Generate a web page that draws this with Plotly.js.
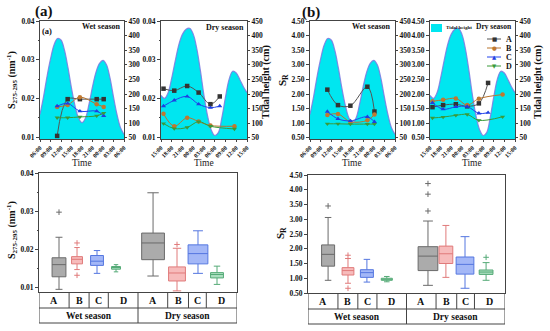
<!DOCTYPE html>
<html><head><meta charset="utf-8">
<script src="https://cdn.plot.ly/plotly-3.0.1.min.js"></script>
<style>html,body{margin:0;padding:0;background:#fff}#chart{width:550px;height:331px}</style>
</head><body><div id="chart"></div>
<script>
// ---------- DATA ----------
const wetTicks = ['06:00','09:00','12:00','15:00','18:00','21:00','00:00','03:00','06:00'];
const dryTicks = ['15:00','18:00','21:00','00:00','03:00','06:00','09:00','12:00','15:00'];
const seriesNames = ['A','B','C','D'];

// tidal height (cm), hours after first tick
const tideHours = [0,1,2,3,4,5,6,7,8,9,10,11,12,13,14,15,16,17,18,19,20,21,22,23,24];
const tideWet = [130,190,260,320,368,390,385,350,290,220,160,118,102,118,165,225,275,305,315,300,255,190,130,85,62];
const tideDry = [195,185,205,255,315,370,405,422,425,405,355,280,195,125,78,58,68,120,190,250,278,272,250,225,205];

// sampling hours after first tick
const sampWet = [4.9, 7.9, 11.4, 16.2, 18.2];
const sampDry = [0.7, 3.7, 7.3, 10.5, 13.8, 16.4, 20.5];

// S275-295 (nm^-1)
const sWetA = [0.0103, 0.0198, 0.0198, 0.0198, 0.0198];
const sWetB = [0.0178, 0.0183, 0.0203, 0.0185, 0.0178];
const sWetC = [0.0180, 0.0187, 0.0167, 0.0167, 0.0155];
const sWetD = [0.0150, 0.0150, 0.0152, 0.0155, 0.0162];
const sDryA = [0.0225, 0.0220, 0.0232, 0.0215, 0.0185, 0.0205, null];
const sDryB = [0.0160, 0.0128, 0.0150, 0.0140, 0.0130, null, 0.0128];
const sDryC = [0.0180, 0.0195, 0.0205, 0.0185, 0.0176, 0.0180, null];
const sDryD = [0.0135, 0.0122, 0.0125, 0.0140, 0.0128, null, 0.0121];

// SR
const rWetA = [2.15, 1.62, 1.60, 2.25, 1.40];
const rWetB = [1.28, 1.32, 1.05, 1.10, 1.30];
const rWetC = [1.40, 1.15, 1.08, 1.22, 1.05];
const rWetD = [0.98, 0.98, 0.97, 0.97, 0.97];
const rDryA = [1.55, 1.62, 1.65, 1.58, 1.68, 2.38, null];
const rDryB = [1.75, 1.80, 1.85, 1.62, 1.84, null, 1.98];
const rDryC = [1.70, 1.48, 1.56, 1.57, 1.34, 1.36, null];
const rDryD = [1.18, 1.21, 1.27, 1.30, 1.10, null, 1.22];

// box plots: order Wet A,B,C,D then Dry A,B,C,D
const boxCats = ['A','B','C','D','A','B','C','D'];
const seasons = ['Wet season','Dry season'];
const sLow  = [0.0094, 0.0146, 0.0136, 0.0140, 0.0129, 0.0090, 0.0136, 0.0107];
const sQ1   = [0.0127, 0.0161, 0.0157, 0.0147, 0.0172, 0.0116, 0.0161, 0.0124];
const sMed  = [0.0159, 0.0173, 0.0168, 0.0152, 0.0216, 0.0137, 0.0188, 0.0133];
const sQ3   = [0.0177, 0.0180, 0.0183, 0.0154, 0.0242, 0.0153, 0.0211, 0.0138];
const sHigh = [0.0231, 0.0204, 0.0196, 0.0159, 0.0348, 0.0202, 0.0248, 0.0155];
const sOut  = [[0.0297],[0.0216,0.0131],[],[],[],[0.0212],[],[]];
const rLow  = [0.93, 0.83, 0.87, 0.88, 0.76, 1.03, 0.66, 0.93];
const rQ1   = [1.41, 1.11, 1.03, 0.93, 1.26, 1.50, 1.14, 1.13];
const rMed  = [1.81, 1.26, 1.19, 0.96, 1.75, 1.83, 1.47, 1.21];
const rQ3   = [2.13, 1.36, 1.29, 1.00, 2.07, 2.09, 1.72, 1.28];
const rHigh = [3.06, 1.67, 1.64, 1.06, 2.94, 2.79, 2.41, 1.53];
const rOut  = [[3.45],[1.78,0.66],[],[],[4.21,3.85,3.28],[],[],[1.71]];

// ---------- LAYOUT HELPERS ----------
const W = 550, H = 331;
const X = p => p / W, Y = p => 1 - p / H;
const F = 'Liberation Serif, Times New Roman, serif';
const tf = (s, c) => ({family: F, size: s, color: c || '#111', weight: 'bold'});
const hourTicks = wetTicks.map((_, i) => i * 3);

const lineCol = ['#555555', '#b8742e', '#2244ee', '#3a9a3a'];
const markCol = ['#333333', '#c07830', '#1f3fe0', '#3a9a3a'];
const markSym = ['square', 'circle', 'triangle-up', 'triangle-down'];
const boxLine = ['#6a6a6a', '#e07a7a', '#5577e0', '#55aa77'];
const boxFill = ['rgba(150,150,150,0.8)', 'rgba(245,170,170,0.8)', 'rgba(140,165,245,0.8)', 'rgba(150,215,175,0.8)'];

const traces = [];
function tide(xa, ya, vals) {
  traces.push({x: tideHours, y: vals, xaxis: xa, yaxis: ya, type: 'scatter', mode: 'lines',
    line: {shape: 'spline', color: 'rgba(125,120,225,0.85)', width: 1.2},
    fill: 'tozeroy', fillcolor: '#00e6f0', showlegend: false, hoverinfo: 'skip'});
}
function series(xa, ya, hours, arrs) {
  arrs.forEach((v, i) => traces.push({x: hours, y: v, xaxis: xa, yaxis: ya, type: 'scatter',
    mode: 'lines+markers', connectgaps: true, name: seriesNames[i],
    line: {shape: 'spline', color: lineCol[i], width: 1},
    marker: {symbol: markSym[i], size: 4.5, color: markCol[i]}, showlegend: false}));
}
tide('x', 'y', tideWet);   series('x', 'y2', sampWet, [sWetA, sWetB, sWetC, sWetD]);
tide('x2', 'y3', tideDry); series('x2', 'y4', sampDry, [sDryA, sDryB, sDryC, sDryD]);
tide('x3', 'y5', tideWet); series('x3', 'y6', sampWet, [rWetA, rWetB, rWetC, rWetD]);
tide('x4', 'y7', tideDry); series('x4', 'y8', sampDry, [rDryA, rDryB, rDryC, rDryD]);

// box positions/widths (x data units, range 0..10)
const posA = [1.01, 1.92, 2.93, 3.89, 5.76, 6.97, 8.03, 8.99];
const widA = [0.70, 0.55, 0.65, 0.45, 1.15, 0.85, 1.00, 0.65];
const posB = [1.02, 2.03, 2.99, 4.00, 6.09, 7.00, 7.97, 9.04];
const widB = [0.66, 0.60, 0.66, 0.56, 1.00, 0.70, 0.90, 0.70];
function boxes(xa, ya, pos, wid, lo, q1, md, q3, hi, out) {
  boxCats.forEach((c, i) => {
    const k = i % 4;
    traces.push({type: 'box', xaxis: xa, yaxis: ya, x: [pos[i]], lowerfence: [lo[i]], q1: [q1[i]],
      median: [md[i]], q3: [q3[i]], upperfence: [hi[i]], width: wid[i], whiskerwidth: 0.5,
      fillcolor: boxFill[k], line: {color: boxLine[k], width: 1}, boxpoints: false, showlegend: false, hoverinfo: 'skip'});
    if (out[i].length) traces.push({type: 'scatter', mode: 'markers', xaxis: xa, yaxis: ya,
      x: out[i].map(() => pos[i]), y: out[i], marker: {symbol: 'cross-thin', size: 4, line: {color: boxLine[k], width: 1}},
      showlegend: false, hoverinfo: 'skip'});
  });
}
boxes('x5', 'y9', posA, widA, sLow, sQ1, sMed, sQ3, sHigh, sOut);
boxes('x6', 'y10', posB, widB, rLow, rQ1, rMed, rQ3, rHigh, rOut);

// ---------- AXES ----------
const axC = '#444';
function xTop(dom, anchor, ticks) {
  return {domain: dom, anchor: anchor, range: [0, 24], tickmode: 'array', tickvals: hourTicks, ticktext: ticks,
    tickangle: -45, tickfont: tf(6), showline: true, mirror: true, linecolor: axC, linewidth: 1,
    ticks: 'outside', ticklen: 2, tickcolor: axC, showgrid: false, zeroline: false};
}
function yTide(anchor) {
  return {domain: [Y(139), Y(21)], anchor: anchor, side: 'right', range: [46, 450], tick0: 0, dtick: 50,
    tickfont: tf(7.5), showline: true, linecolor: axC, ticks: 'outside', ticklen: 2, tickcolor: axC,
    showgrid: false, zeroline: false};
}
function yS(over, anchor) {
  return {overlaying: over, anchor: anchor, side: 'left', range: [0.0095, 0.04], tick0: 0, dtick: 0.01,
    tickformat: '.2f', tickfont: tf(7.5), showline: true, linecolor: axC, ticks: 'outside', ticklen: 3,
    tickcolor: axC, minor: {ticks: 'outside', ticklen: 1.5, dtick: 0.005, tickcolor: axC},
    showgrid: false, zeroline: false};
}
function yR(over, anchor) {
  return {overlaying: over, anchor: anchor, side: 'left', range: [0.46, 4.5], tick0: 0, dtick: 0.5,
    tickformat: '.2f', tickfont: tf(7.5), showline: true, linecolor: axC, ticks: 'outside', ticklen: 3,
    tickcolor: axC, showgrid: false, zeroline: false};
}
function xBot(dom, anchor) {
  return {domain: dom, anchor: anchor, range: [0, 10], showticklabels: false, ticks: '', showline: true,
    mirror: true, linecolor: axC, linewidth: 1, showgrid: false, zeroline: false};
}

const layout = {
  width: W, height: H, margin: {l: 0, r: 0, t: 0, b: 0}, paper_bgcolor: '#fff', plot_bgcolor: 'rgba(0,0,0,0)',
  showlegend: false, font: {family: F},
  xaxis: xTop([X(40), X(124)], 'y', wetTicks),
  xaxis2: xTop([X(161), X(247)], 'y3', dryTicks),
  xaxis3: xTop([X(310), X(395)], 'y5', wetTicks),
  xaxis4: xTop([X(430), X(515)], 'y7', dryTicks),
  yaxis: yTide('x'), yaxis2: yS('y', 'x'),
  yaxis3: yTide('x2'), yaxis4: yS('y3', 'x2'),
  yaxis5: yTide('x3'), yaxis6: yR('y5', 'x3'),
  yaxis7: yTide('x4'), yaxis8: yR('y7', 'x4'),
  xaxis5: xBot([X(39), X(237)], 'y9'),
  xaxis6: xBot([X(308), X(505)], 'y10'),
  yaxis9: {domain: [Y(292), Y(173)], anchor: 'x5', range: [0.0087, 0.04], tick0: 0, dtick: 0.01, tickformat: '.2f',
    tickfont: tf(7.5), showline: true, mirror: true, linecolor: axC, ticks: 'outside', ticklen: 3, tickcolor: axC,
    minor: {ticks: 'outside', ticklen: 1.5, dtick: 0.005, tickcolor: axC}, showgrid: false, zeroline: false},
  yaxis10: {domain: [Y(293), Y(175)], anchor: 'x6', range: [0.5, 4.5], tick0: 0, dtick: 0.5, tickformat: '.2f',
    tickfont: tf(7.5), showline: true, mirror: true, linecolor: axC, ticks: 'outside', ticklen: 3, tickcolor: axC,
    showgrid: false, zeroline: false},
  shapes: [], annotations: []
};

// ---------- TABLE UNDER BOX PLOTS ----------
const cellEdges = [0, 1.52, 2.53, 3.5, 5.0, 6.5, 7.55, 8.45, 10];
function table(xa, yTop) {
  const yr = 'paper', y1 = Y(yTop), y2 = Y(yTop + 16), y3 = Y(yTop + 31);
  const L = (x0, x1, ya, yb) => layout.shapes.push({type: 'line', xref: xa, yref: yr, x0: x0, x1: x1, y0: ya, y1: yb,
    line: {color: axC, width: 1}});
  L(0, 0, y1, y3); L(10, 10, y1, y3); L(5, 5, y1, y3);
  L(0, 10, y2, y2); L(0, 10, y3, y3);
  cellEdges.slice(1, -1).forEach(e => { if (e !== 5.0) L(e, e, y1, y2); });
  boxCats.forEach((c, i) => layout.annotations.push({xref: xa, yref: yr, x: (cellEdges[i] + cellEdges[i + 1]) / 2,
    y: (y1 + y2) / 2, text: c, showarrow: false, font: tf(10), xanchor: 'center', yanchor: 'middle'}));
  seasons.forEach((s, i) => layout.annotations.push({xref: xa, yref: yr, x: 2.5 + i * 5, y: (y2 + y3) / 2, text: s,
    showarrow: false, font: tf(9.5), xanchor: 'center', yanchor: 'middle'}));
}
table('x5', 292);
table('x6', 293);

// ---------- TEXT ----------
const A = (x, y, text, font, extra) => layout.annotations.push(Object.assign({xref: 'paper', yref: 'paper',
  x: X(x), y: Y(y), text: text, showarrow: false, font: font, xanchor: 'center', yanchor: 'middle'}, extra || {}));
A(44, 11, '(a)', tf(15));
A(311, 12, '(b)', tf(15));
A(47, 31, '(a)', tf(8.5));
A(123, 27, 'Wet season', tf(8), {xanchor: 'right'});
A(246, 28, 'Dry season', tf(8), {xanchor: 'right'});
A(393, 27, 'Wet season', tf(8), {xanchor: 'right'});
A(514, 27, 'Dry season', tf(7.5), {xanchor: 'right'});
[82, 204, 352, 472].forEach(x => A(x, 163, 'Time', {family: F, size: 9.5, color: '#222'}));
const sTitle = 'S<sub>275-295</sub> (nm<sup>-1</sup>)';
A(12, 80, sTitle, tf(10), {textangle: -90});
A(12, 230, sTitle, tf(10), {textangle: -90});
A(283, 80, 'S<sub>R</sub>', tf(11), {textangle: -90});
A(281, 233, 'S<sub>R</sub>', tf(11), {textangle: -90});
A(266, 82, 'Tidal height (cm)', tf(10), {textangle: -90});
A(538, 82, 'Tidal height (cm)', tf(10), {textangle: -90});

// legend (manual) in (b) dry panel
layout.shapes.push({type: 'rect', xref: 'paper', yref: 'paper', x0: X(431), x1: X(442), y0: Y(32), y1: Y(24),
  fillcolor: '#00e6f0', line: {width: 0}});
A(444, 28, 'Tidal height', tf(5), {xanchor: 'left'});
const glyph = ['■', '●', '▲', '▼'];
seriesNames.forEach((n, i) => {
  const yy = 39 + i * 9;
  layout.shapes.push({type: 'line', xref: 'paper', yref: 'paper', x0: X(487), x1: X(501), y0: Y(yy), y1: Y(yy),
    line: {color: lineCol[i], width: 1}});
  A(494, yy, glyph[i], {family: 'DejaVu Sans', size: 5.5, color: markCol[i]});
  A(504, yy, n, tf(8), {xanchor: 'left'});
});

Plotly.newPlot('chart', traces, layout, {staticPlot: true, displayModeBar: false});
</script></body></html>
